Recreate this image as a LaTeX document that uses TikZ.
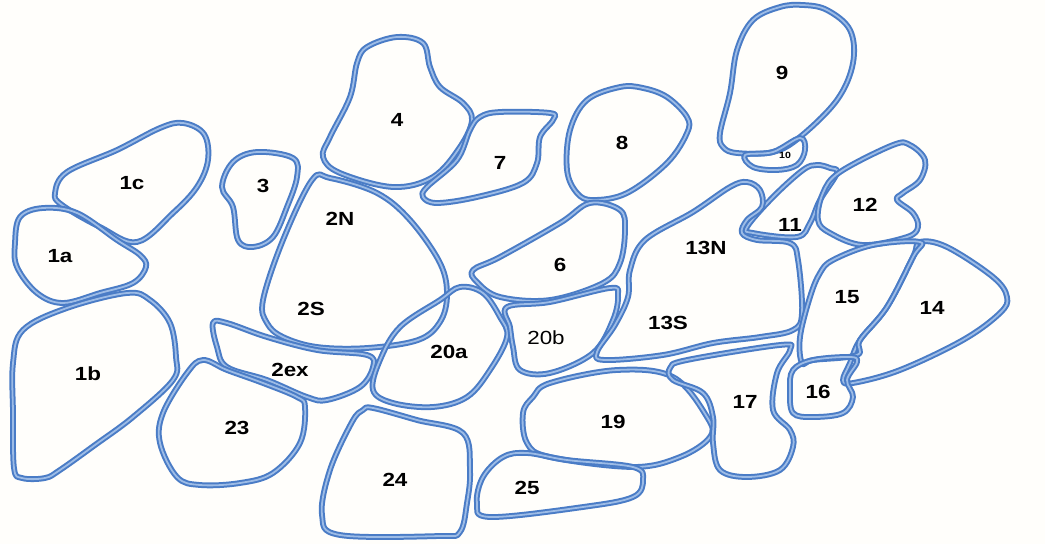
\documentclass[tikz,border=0pt]{standalone}
\usepackage{fontspec}
\newfontfamily\lblfont[FakeStretch=1.18]{Liberation Sans}
\usetikzlibrary{positioning}
\definecolor{rimblue}{HTML}{4A7CC6}
\definecolor{rimlight}{HTML}{9DBCE6}
\definecolor{paper}{HTML}{FFFEFB}

\begin{document}
\begin{tikzpicture}[x=1pt, y=-1pt,
  zone/.style={draw=rimblue, double=rimlight, line width=2pt,
    double distance=1.8pt, line join=round},
  lbl/.style={font=\lblfont\bfseries\fontsize{19}{21}\selectfont, text=black, inner sep=1pt},
]

% =============================================
% Canvas
% =============================================
\fill[paper] (0,0) rectangle (1045,544);
\useasboundingbox (0,0) rectangle (1045,544);

% =============================================
% Left column: 1a, 1b, 1c, 3
% =============================================
\draw[zone] plot[smooth cycle, tension=0.6] coordinates {
  (55,193) (67,172) (117,150) (160,128) (183,123) (204,134) (208,160)
  (197,187) (173,213) (137,242) (100,227) (62,205)};
\draw[zone] plot[smooth cycle, tension=0.6] coordinates {
  (43,208) (20,217) (15,243) (17,267) (37,293) (63,303) (100,293)
  (133,283) (146,267) (140,255) (117,240) (77,213)};
\draw[zone] plot[smooth cycle, tension=0.6] coordinates {
  (23,330) (67,308) (127,293) (150,300) (170,323) (176,357) (173,380)
  (133,417) (95,445) (60,470) (45,478) (22,478) (14,468) (13,413) (13,363)};
\draw[zone] plot[smooth cycle, tension=0.6] coordinates {
  (257,152) (233,162) (222,187) (233,207) (238,240) (253,247)
  (273,237) (287,207) (297,177) (293,158)};

% =============================================
% Middle left: 2N/2S, 2ex, 23, 24
% =============================================
\draw[zone] plot[smooth cycle, tension=0.6] coordinates {
  (312,180) (330,178) (377,193) (410,220) (440,263) (447,295)
  (440,322) (418,340) (367,348) (317,347) (283,337) (267,323)
  (263,300) (283,240)};
\draw[zone] plot[smooth cycle, tension=0.6] coordinates {
  (213,323) (227,323) (267,337) (317,350) (367,355) (373,367)
  (360,387) (327,400) (307,397) (267,380) (227,367) (217,347)};
\draw[zone] plot[smooth cycle, tension=0.6] coordinates {
  (203,360) (187,373) (163,413) (160,443) (177,477) (200,485)
  (240,483) (273,473) (300,443) (305,407) (297,397) (263,383) (227,370)};
\draw[zone] plot[smooth cycle, tension=0.6] coordinates {
  (363,410) (373,408) (417,420) (463,433) (470,470) (467,503)
  (460,532) (440,536) (340,535) (322,515) (330,470) (352,422)};

% =============================================
% Upper middle: 4, 7, 8, 6
% =============================================
\draw[zone] plot[smooth cycle, tension=0.6] coordinates {
  (397,37) (367,47) (357,63) (350,97) (330,137) (323,157) (340,173)
  (393,187) (433,177) (460,147) (472,120) (463,103) (440,87)
  (430,67) (423,43)};
\draw[zone] plot[smooth cycle, tension=0.6] coordinates {
  (480,117) (500,112) (550,113) (553,120) (540,137) (537,163)
  (523,183) (477,197) (437,203) (423,197) (427,187) (457,160) (470,130)};
\draw[zone] plot[smooth cycle, tension=0.6] coordinates {
  (620,87) (587,100) (570,130) (567,170) (577,193) (593,200)
  (627,193) (667,163) (687,133) (687,117) (667,97) (643,88)};
\draw[zone] plot[smooth cycle, tension=0.6] coordinates {
  (590,203) (620,210) (625,230) (620,263) (603,283) (550,300)
  (500,297) (477,282) (473,270) (500,257) (560,223)};

% =============================================
% Centre: 20a, 20b, 19, 25
% =============================================
\draw[zone] plot[smooth cycle, tension=0.6] coordinates {
  (460,287) (440,300) (400,327) (380,360) (373,390) (393,403)
  (433,407) (467,397) (490,370) (507,337) (500,317) (483,293)};
\draw[zone] plot[smooth cycle, tension=0.6] coordinates {
  (507,307) (550,302) (610,288) (618,295) (613,320) (593,353)
  (550,373) (520,370) (513,347) (510,327)};
\draw[zone] plot[smooth cycle, tension=0.6] coordinates {
  (533,397) (550,383) (617,370) (673,377) (707,417) (710,437)
  (680,457) (633,467) (550,457) (527,443) (523,413)};
\draw[zone] plot[smooth cycle, tension=0.6] coordinates {
  (503,457) (527,453) (567,460) (633,467) (643,480) (633,497)
  (583,507) (490,517) (477,503) (483,477)};

% =============================================
% Right: 9, 10, 11, 12, 13N/13S
% =============================================
\draw[zone] plot[smooth cycle, tension=0.6] coordinates {
  (780,7) (753,20) (737,50) (730,93) (720,133) (723,147) (737,153)
  (773,152) (800,137) (837,100) (853,63) (850,30) (827,10) (803,5)};
\draw[zone] plot[smooth cycle, tension=0.6] coordinates {
  (745,155) (773,152) (800,138) (805,150) (797,165) (777,170) (753,167)};
\draw[zone] plot[smooth cycle, tension=0.6] coordinates {
  (817,165) (803,170) (773,197) (747,227) (753,233) (797,237)
  (810,223) (820,200) (837,173) (830,168)};
\draw[zone] plot[smooth cycle, tension=0.6] coordinates {
  (840,172) (893,145) (910,145) (925,160) (920,180) (903,193)
  (897,200) (913,213) (918,227) (907,237) (863,245) (830,233)
  (818,220) (823,193)};
\draw[zone] plot[smooth cycle, tension=0.6] coordinates {
  (630,270) (645,240) (693,212) (730,187) (747,182) (760,190)
  (762,207) (747,220) (742,233) (757,240) (790,243) (798,260)
  (802,313) (793,330) (760,337) (713,343) (663,355) (605,360)
  (597,352) (615,325) (628,297)};

% =============================================
% Lower right: 14, 15, 16, 17
% =============================================
\draw[zone] plot[smooth cycle, tension=0.6] coordinates {
  (920,242) (947,247) (993,277) (1007,297) (1000,313) (963,340)
  (900,370) (853,383) (843,380) (850,363) (860,340) (887,307) (913,257)};
\draw[zone] plot[smooth cycle, tension=0.6] coordinates {
  (833,260) (873,245) (920,242) (913,257) (887,307) (860,340)
  (857,355) (813,360) (802,363) (800,337) (810,297) (820,273)};
\draw[zone] plot[smooth cycle, tension=0.6] coordinates {
  (793,370) (813,360) (850,357) (857,362) (847,380) (853,397)
  (843,413) (813,417) (793,413) (790,390)};
\draw[zone] plot[smooth cycle, tension=0.6] coordinates {
  (670,368) (687,360) (780,345) (790,350) (777,373) (773,410)
  (790,430) (793,447) (780,470) (747,477) (720,470) (713,443)
  (713,417) (703,393) (673,380)};

% =============================================
% Labels
% =============================================
\node[lbl] (l1c) at (132,183) {1c};
\node[lbl] (l1a) at (60,256) {1a};
\node[lbl] (l1b) at (88,374) {1b};
\node[lbl] (l3) at (263,186) {3};
\node[lbl] (l2N) at (340,219) {2N};
\node[lbl] (l2S) at (311,309) {2S};
\node[lbl] (l2ex) at (290,370) {2ex};
\node[lbl] (l23) at (237,428) {23};
\node[lbl] (l24) at (395,480) {24};
\node[lbl] (l4) at (397,120) {4};
\node[lbl] (l7) at (500,163) {7};
\node[lbl] (l8) at (622,143) {8};
\node[lbl] (l6) at (560,265) {6};
\node[lbl] (l20a) at (449,352) {20a};
\node[lbl, font=\lblfont\fontsize{19}{21}\selectfont] (l20b) at (546,338) {20b};
\node[lbl] (l19) at (613,422) {19};
\node[lbl] (l25) at (527,488) {25};
\node[lbl] (l9) at (782,73) {9};
\node[lbl, font=\lblfont\bfseries\fontsize{9}{10}\selectfont] (l10) at (785,155) {10};
\node[lbl] (l11) at (790,225) {11};
\node[lbl] (l12) at (865,205) {12};
\node[lbl] (l13N) at (706,248) {13N};
\node[lbl] (l13S) at (668,323) {13S};
\node[lbl] (l15) at (847,297) {15};
\node[lbl] (l14) at (932,308) {14};
\node[lbl] (l16) at (818,392) {16};
\node[lbl] (l17) at (745,402) {17};

\end{tikzpicture}
\end{document}
